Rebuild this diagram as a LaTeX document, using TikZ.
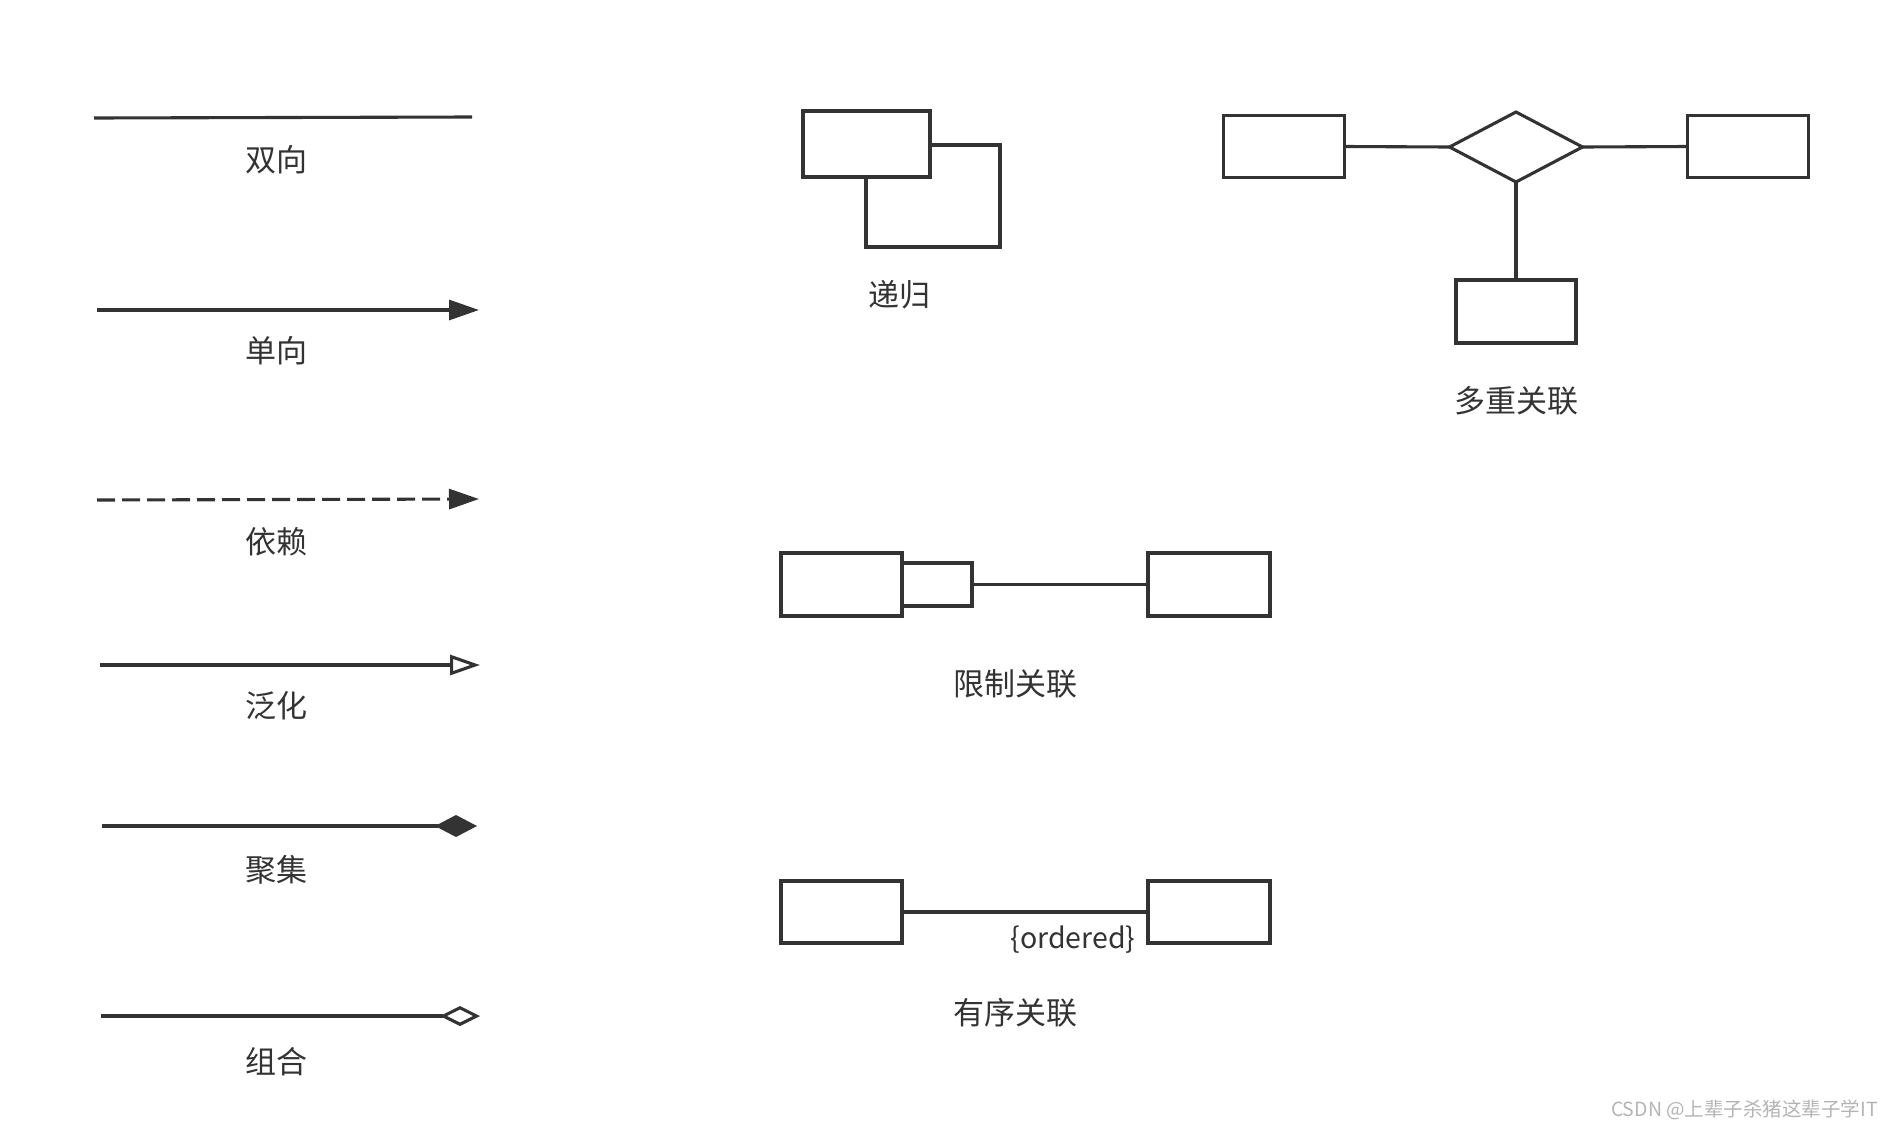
\documentclass[tikz,border=0pt]{standalone}
\usepackage{fontspec}
\setmainfont{Noto Sans CJK SC}
\usetikzlibrary{arrows.meta,shapes.geometric}
\definecolor{ink}{HTML}{333333}
\definecolor{mark}{HTML}{B4B4B4}
\tikzset{
  conn/.style={draw=ink, line width=3.1pt},
  cls/.style={draw=ink, line width=3.1pt, fill=white, inner sep=0pt, outer sep=0pt,
              minimum width=#1, minimum height=62pt},
  cls/.default=121pt,
  lbl/.style={text=ink, font=\fontsize{31}{36}\selectfont, inner sep=0pt},
  fillTri/.style={-{Triangle[length=30pt,width=20pt]}},
  openTri/.style={-{Triangle[open,length=30pt,width=20pt,fill=white]}},
  fillDia/.style={-{Diamond[length=42pt,width=22pt]}},
  openDia/.style={-{Diamond[open,length=40pt,width=20pt,fill=white]}},
}
\begin{document}
\begin{tikzpicture}[x=1pt,y=-1pt]
\useasboundingbox (0,0) rectangle (1893,1130);

% ---- relation line kinds (left column) ----
\coordinate (biS) at (94,118);   \coordinate (biE) at (472,117);
\coordinate (uniS) at (97,310);  \coordinate (uniE) at (479,310);
\coordinate (depS) at (97,500);  \coordinate (depE) at (479,499);
\coordinate (genS) at (100,665); \coordinate (genE) at (480,665);
\coordinate (aggS) at (102,826); \coordinate (aggE) at (477,826);
\coordinate (comS) at (101,1016);\coordinate (comE) at (480,1016);

\draw[conn] (biS) -- (biE);
\draw[conn,fillTri] (uniS) -- (uniE);
\draw[conn,fillTri,dash pattern=on 18pt off 7pt] (depS) -- (depE);
\draw[conn,openTri] (genS) -- (genE);
\draw[conn,fillDia] (aggS) -- (aggE);
\draw[conn,openDia] (comS) -- (comE);

\node[lbl] (tBi)  at (276,160) {双向};
\node[lbl] (tUni) at (276,351) {单向};
\node[lbl] (tDep) at (276,542) {依赖};
\node[lbl] (tGen) at (276,706) {泛化};
\node[lbl] (tAgg) at (276,870) {聚集};
\node[lbl] (tCom) at (276,1062) {组合};

% ---- recursive association ----
\node[cls=134pt, minimum height=102pt] (recB) at (933,196) {};
\node[cls=127pt, minimum height=66pt]  (recA) at (866.5,144) {};
\node[lbl] (tRec) at (899,295) {递归};

% ---- n-ary association ----
\node[cls] (mL) at (1284,146.5) {};
\node[cls] (mR) at (1748,146.5) {};
\node[cls=120pt, minimum height=63pt] (mB) at (1516,311.5) {};
\node[diamond, draw=ink, line width=3.1pt, inner sep=0pt, outer sep=0pt,
      minimum width=133pt, minimum height=70pt] (mD) at (1516,147) {};
\draw[conn] (mL.east) -- (mD.west);
\draw[conn] (mD.east) -- (mR.west);
\draw[conn] (mD.south) -- (mB.north);
\node[lbl] (tMul) at (1516,401) {多重关联};

% ---- qualified association ----
\node[cls=121pt, minimum height=63pt] (qL) at (841.5,584.5) {};
\node[cls=70pt, minimum height=43pt, anchor=west] (qQ) at (qL.east) {};
\node[cls=122pt, minimum height=63pt] (qR) at (1209,584.5) {};
\draw[conn] (qQ.east) -- (qR.west);
\node[lbl] (tQua) at (1015,684) {限制关联};

% ---- ordered association ----
\node[cls=121pt] (oL) at (841.5,912) {};
\node[cls=122pt] (oR) at (1209,912) {};
\draw[conn] (oL.east) -- (oR.west);
\node[text=ink, font=\fontsize{28.5}{33}\selectfont, inner sep=0pt] (tOrd) at (1073,940) {\{ordered\}};
\node[lbl] (tOrdA) at (1015,1013) {有序关联};

% ---- footer ----
\node[text=mark, font=\fontsize{19.5}{23}\selectfont, inner sep=0pt, anchor=east] (wm) at (1878,1110) {CSDN @上辈子杀猪这辈子学IT};
\end{tikzpicture}
\end{document}
